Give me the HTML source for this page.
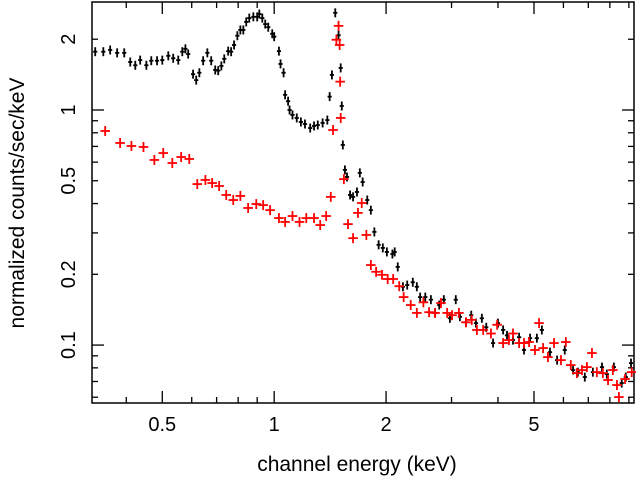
<!DOCTYPE html>
<html><head><meta charset="utf-8"><style>
html,body{margin:0;padding:0;background:#fff;}
svg{display:block;font-family:"Liberation Sans",sans-serif;}
</style></head><body>
<svg id="chart" width="636" height="477" viewBox="0 0 636 477">
<g id="axes"></g>
<g id="marks"></g>
<text x="357" y="471" font-size="21" text-anchor="middle">channel energy (keV)</text>
<text transform="translate(24,203) rotate(-90)" font-size="21" text-anchor="middle">normalized counts/sec/keV</text>
</svg>
<script>
const blackEnergy=[.330,.347,.362,.378,.395,.410,.423,.436,.453,.467,.484,.500,.519,.535,.552,.566,.577,.587,.605,.617,.629,.644,.661,.677,.694,.707,.721,.734,.752,.766,.780,.796,.811,.826,.841,.857,.879,.900,.912,.929,.946,.964,.988,1.00,1.03,1.04,1.06,1.07,1.09,1.10,1.12,1.15,1.18,1.21,1.25,1.28,1.31,1.35,1.39,1.41,1.43,1.46,1.49,1.51,1.52,1.53,1.55,1.57,1.60,1.63,1.67,1.70,1.73,1.78,1.82,1.86,1.91,1.96,2.01,2.08,2.11,2.15,2.22,2.28,2.36,2.42,2.47,2.55,2.64,2.71,2.78,2.86,2.97,3.08,3.16,3.28,3.39,3.49,3.62,3.72,3.88,4.00,4.13,4.23,4.39,4.56,4.70,4.88,5.09,5.25,5.52,5.77,6.05,6.37,6.56,6.85,7.20,7.62,7.85,8.20,8.61,8.83,9.12];
const blackFlux=[1.77,1.77,1.80,1.75,1.75,1.60,1.55,1.63,1.55,1.62,1.62,1.63,1.70,1.66,1.63,1.77,1.82,1.73,1.42,1.34,1.44,1.62,1.75,1.62,1.48,1.47,1.54,1.65,1.78,1.77,1.89,2.07,2.19,2.19,2.37,2.46,2.49,2.49,2.56,2.46,2.32,2.25,2.11,2.05,1.78,1.57,1.44,1.16,1.09,1.00,.953,.925,.889,.872,.838,.855,.863,.881,.906,1.14,1.41,2.59,2.08,1.51,1.04,.710,.556,.519,.435,.427,.448,.540,.494,.414,.375,.303,.267,.259,.249,.244,.249,.215,.177,.180,.185,.177,.160,.160,.156,.137,.148,.156,.130,.156,.132,.125,.134,.124,.130,.119,.102,.124,.116,.110,.105,.108,.0953,.107,.107,.116,.0933,.0863,.0953,.0783,.0767,.0731,.0767,.0806,.0753,.0806,.0689,.0731,.0838];
const redEnergy=[.351,.385,.413,.445,.476,.503,.532,.562,.591,.621,.653,.681,.711,.743,.776,.811,.851,.895,.934,.975,1.03,1.07,1.12,1.17,1.22,1.28,1.33,1.38,1.42,1.44,1.47,1.49,1.50,1.505,1.51,1.54,1.58,1.63,1.68,1.72,1.77,1.82,1.88,1.95,2.02,2.09,2.17,2.23,2.33,2.42,2.52,2.61,2.71,2.81,2.92,3.01,3.14,3.28,3.40,3.51,3.65,3.83,3.98,4.13,4.28,4.39,4.56,4.70,4.85,5.03,5.16,5.29,5.45,5.66,5.91,6.09,6.28,6.52,6.73,6.94,7.16,7.38,7.66,7.91,8.15,8.36,8.46,8.79,9.16];
const redFlux=[.814,.724,.703,.696,.613,.656,.595,.631,.619,.484,.504,.489,.475,.435,.414,.431,.383,.398,.394,.375,.347,.334,.354,.334,.347,.347,.324,.354,.427,.822,1.99,2.28,1.89,1.32,.925,.508,.327,.285,.365,.402,.294,.219,.205,.199,.191,.191,.178,.160,.148,.137,.152,.138,.137,.151,.137,.134,.137,.125,.128,.116,.116,.112,.122,.102,.105,.112,.102,.102,.103,.0953,.124,.0971,.0889,.102,.0863,.103,.0822,.0760,.0783,.0806,.0925,.0767,.0760,.0710,.0783,.0676,.0601,.0717,.0767];
const xMajorTicks=[0.5,1,2,5];
const xMinorTicks=[0.4,0.6,0.7,0.8,0.9,3,4,6,7,8,9];
const yLabelTicks=[0.1,0.2,0.5,1,2];
const yMajorTicks=[0.1,1];
const yMinorTicks=[0.06,0.07,0.08,0.09,0.2,0.3,0.4,0.5,0.6,0.7,0.8,0.9,2];

const L=92,R=634,T=2,B=403;
const xLogMin=Math.log10(0.3235),xLogMax=Math.log10(9.29);
const yLogMin=Math.log10(0.0567),yLogMax=Math.log10(2.88);
function X(e){return L+(Math.log10(e)-xLogMin)/(xLogMax-xLogMin)*(R-L);}
function Y(f){return B-(Math.log10(f)-yLogMin)/(yLogMax-yLogMin)*(B-T);}
const NS='http://www.w3.org/2000/svg';
const axes=document.getElementById('axes'),marks=document.getElementById('marks');
function line(p,x1,y1,x2,y2,c,w){const l=document.createElementNS(NS,'line');l.setAttribute('x1',x1);l.setAttribute('y1',y1);l.setAttribute('x2',x2);l.setAttribute('y2',y2);l.setAttribute('stroke',c);l.setAttribute('stroke-width',w);p.appendChild(l);return l;}
const frame=document.createElementNS(NS,'rect');
frame.setAttribute('x',L);frame.setAttribute('y',T);frame.setAttribute('width',R-L);frame.setAttribute('height',B-T);
frame.setAttribute('fill','none');frame.setAttribute('stroke','#000');frame.setAttribute('stroke-width','1.5');


axes.appendChild(frame);
xMajorTicks.forEach(v=>{const x=X(v);
 const t1=line(axes,x,B,x,B-12,'#000',1.3);
 
 
 line(axes,x,T,x,T+12,'#000',1.3);
 const tx=document.createElementNS(NS,'text');tx.setAttribute('x',x);tx.setAttribute('y',431);tx.setAttribute('font-size','20');tx.setAttribute('text-anchor','middle');tx.textContent=String(v);
 
 
 axes.appendChild(tx);});
xMinorTicks.forEach(v=>{const x=X(v);
 const t=line(axes,x,B,x,B-6,'#000',1.3);
 
 
 line(axes,x,T,x,T+6,'#000',1.3);});
yMajorTicks.forEach(v=>{const y=Y(v);
 const t=line(axes,L,y,L+12,y,'#000',1.3);
 
 
 line(axes,R,y,R-12,y,'#000',1.3);});
yMinorTicks.forEach(v=>{const y=Y(v);
 const t=line(axes,L,y,L+6,y,'#000',1.3);
 
 
 line(axes,R,y,R-6,y,'#000',1.3);});
yLabelTicks.forEach(v=>{const y=Y(v);
 const tx=document.createElementNS(NS,'text');tx.setAttribute('transform','translate(75,'+y+') rotate(-90)');tx.setAttribute('font-size','20');tx.setAttribute('text-anchor','middle');tx.textContent=String(v);
 
 
 axes.appendChild(tx);});
function series(E,F,color,hw,vf,name){
 const g=document.createElementNS(NS,'g');
 
 
 marks.appendChild(g);
 E.forEach((e,i)=>{const x=X(e),y=Y(F[i]);
  const h=line(g,X(e/hw),y,X(e*hw),y,color,1.8);
  
  
  const v=line(g,x,Y(F[i]/vf),x,Y(F[i]*vf),color,1.8);
  
  });
}
series(blackEnergy,blackFlux,'#000',1.013,1.045,'black-spectrum');
series(redEnergy,redFlux,'#ff0000',1.03,1.05,'red-spectrum');
</script>
</body></html>
